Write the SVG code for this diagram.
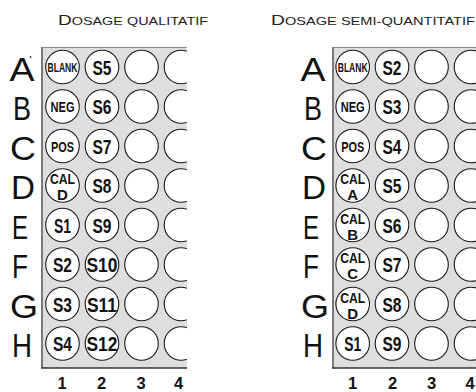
<svg xmlns="http://www.w3.org/2000/svg" width="476" height="392" viewBox="0 0 476 392">
<style>
.plate{fill:#dedede}
.edge{stroke:#7a7a7a;stroke-width:2;fill:none}
.top{stroke:#8a8a8a;stroke-width:1;fill:none}
.bot{stroke:#333;stroke-width:1.5;fill:none}
.well circle{fill:#fff;stroke:#1a1a1a;stroke-width:1.1}
.well text{font-family:"Liberation Sans",Arial,sans-serif;font-weight:bold;text-anchor:middle;fill:#111}
.s{font-size:20.5px}
.b{font-size:12.5px}
.m{font-size:15px}
.row{font-family:"Liberation Sans",Arial,sans-serif;font-size:33px;fill:#111;text-anchor:middle}
.col{font-family:"Liberation Sans",Arial,sans-serif;font-size:16.5px;font-weight:bold;fill:#111;text-anchor:middle}
.title{font-family:"Liberation Sans",Arial,sans-serif;fill:#222}
</style>
<defs>
<clipPath id="clipL"><rect x="41" y="47" width="146" height="321"/></clipPath>
</defs>
<rect width="476" height="392" fill="#fff"/>

<!-- titles -->
<text class="title" x="58" y="25" textLength="150" lengthAdjust="spacingAndGlyphs"><tspan font-size="14.5">D</tspan><tspan font-size="11">OSAGE QUALITATIF</tspan></text>
<text class="title" x="271" y="25" textLength="204" lengthAdjust="spacingAndGlyphs"><tspan font-size="14.5">D</tspan><tspan font-size="11">OSAGE SEMI-QUANTITATIF</tspan></text>

<!-- plates -->
<g id="plate-left">
<rect class="plate" x="41" y="47" width="146" height="321"/>
<line class="top" x1="41" y1="47.5" x2="187" y2="47.5"/>
<line class="edge" x1="42" y1="47" x2="42" y2="368"/>
<line class="bot" x1="41" y1="368" x2="187" y2="368"/>
</g>
<g id="plate-right">
<rect class="plate" x="332" y="47" width="144" height="321"/>
<line class="top" x1="332" y1="47.5" x2="476" y2="47.5"/>
<line class="edge" x1="333" y1="47" x2="333" y2="368"/>
<line class="bot" x1="332" y1="368" x2="476" y2="368"/>
</g>

<!-- row labels -->
<g id="rows-left">
<text class="row" x="22" y="80.5" textLength="25" lengthAdjust="spacingAndGlyphs">A</text>
<text class="row" x="22" y="120" textLength="18" lengthAdjust="spacingAndGlyphs">B</text>
<text class="row" x="23" y="159.5" textLength="26" lengthAdjust="spacingAndGlyphs">C</text>
<text class="row" x="23" y="199" textLength="24" lengthAdjust="spacingAndGlyphs">D</text>
<text class="row" x="20" y="238.5" textLength="16" lengthAdjust="spacingAndGlyphs">E</text>
<text class="row" x="20" y="278" textLength="16" lengthAdjust="spacingAndGlyphs">F</text>
<text class="row" x="24" y="317.5" textLength="28" lengthAdjust="spacingAndGlyphs">G</text>
<text class="row" x="22" y="357" textLength="20" lengthAdjust="spacingAndGlyphs">H</text>
<circle cx="30.5" cy="57" r="0.9" fill="#333"/>
</g>
<g id="rows-right">
<text class="row" x="313" y="80.5" textLength="25" lengthAdjust="spacingAndGlyphs">A</text>
<text class="row" x="313" y="120" textLength="18" lengthAdjust="spacingAndGlyphs">B</text>
<text class="row" x="314" y="159.5" textLength="26" lengthAdjust="spacingAndGlyphs">C</text>
<text class="row" x="314" y="199" textLength="24" lengthAdjust="spacingAndGlyphs">D</text>
<text class="row" x="311" y="238.5" textLength="16" lengthAdjust="spacingAndGlyphs">E</text>
<text class="row" x="311" y="278" textLength="16" lengthAdjust="spacingAndGlyphs">F</text>
<text class="row" x="315" y="317.5" textLength="28" lengthAdjust="spacingAndGlyphs">G</text>
<text class="row" x="313" y="357" textLength="20" lengthAdjust="spacingAndGlyphs">H</text>
</g>

<!-- column numbers -->
<g id="cols-left">
<text class="col" x="62" y="389">1</text>
<text class="col" x="101.5" y="389">2</text>
<text class="col" x="141" y="389">3</text>
<text class="col" x="178.5" y="389">4</text>
</g>
<g id="cols-right">
<text class="col" x="352.5" y="389">1</text>
<text class="col" x="392.5" y="389">2</text>
<text class="col" x="431.5" y="389">3</text>
<text class="col" x="470" y="389">4</text>
</g>

<!-- left plate wells -->
<g id="wells-left" clip-path="url(#clipL)">
<g id="L-A1" class="well"><circle cx="62.5" cy="67" r="16.8"/><text class="b" x="62.5" y="71.5" textLength="30" lengthAdjust="spacingAndGlyphs">BLANK</text></g>
<g id="L-B1" class="well"><circle cx="62.5" cy="106.5" r="16.8"/><text class="m" x="62.5" y="112" textLength="24" lengthAdjust="spacingAndGlyphs">NEG</text></g>
<g id="L-C1" class="well"><circle cx="62.5" cy="146" r="16.8"/><text class="m" x="62.5" y="151.5" textLength="23" lengthAdjust="spacingAndGlyphs">POS</text></g>
<g id="L-D1" class="well"><circle cx="62.5" cy="185.5" r="16.8"/><text class="m" x="62.5" y="184" textLength="25" lengthAdjust="spacingAndGlyphs">CAL</text><text class="m" x="62.5" y="200">D</text></g>
<g id="L-E1" class="well"><circle cx="62.5" cy="225" r="16.8"/><text class="s" x="62.5" y="232.5" textLength="17" lengthAdjust="spacingAndGlyphs">S1</text></g>
<g id="L-F1" class="well"><circle cx="62.5" cy="264.5" r="16.8"/><text class="s" x="62.5" y="272" textLength="19" lengthAdjust="spacingAndGlyphs">S2</text></g>
<g id="L-G1" class="well"><circle cx="62.5" cy="304" r="16.8"/><text class="s" x="62.5" y="311.5" textLength="19" lengthAdjust="spacingAndGlyphs">S3</text></g>
<g id="L-H1" class="well"><circle cx="62.5" cy="343.5" r="16.8"/><text class="s" x="62.5" y="351" textLength="19" lengthAdjust="spacingAndGlyphs">S4</text></g>

<g id="L-A2" class="well"><circle cx="102" cy="67" r="16.8"/><text class="s" x="102" y="74.5" textLength="19" lengthAdjust="spacingAndGlyphs">S5</text></g>
<g id="L-B2" class="well"><circle cx="102" cy="106.5" r="16.8"/><text class="s" x="102" y="114" textLength="19" lengthAdjust="spacingAndGlyphs">S6</text></g>
<g id="L-C2" class="well"><circle cx="102" cy="146" r="16.8"/><text class="s" x="102" y="153.5" textLength="19" lengthAdjust="spacingAndGlyphs">S7</text></g>
<g id="L-D2" class="well"><circle cx="102" cy="185.5" r="16.8"/><text class="s" x="102" y="193" textLength="19" lengthAdjust="spacingAndGlyphs">S8</text></g>
<g id="L-E2" class="well"><circle cx="102" cy="225" r="16.8"/><text class="s" x="102" y="232.5" textLength="19" lengthAdjust="spacingAndGlyphs">S9</text></g>
<g id="L-F2" class="well"><circle cx="102" cy="264.5" r="16.8"/><text class="s" x="102" y="272" textLength="31" lengthAdjust="spacingAndGlyphs">S10</text></g>
<g id="L-G2" class="well"><circle cx="102" cy="304" r="16.8"/><text class="s" x="102" y="311.5" textLength="30" lengthAdjust="spacingAndGlyphs">S11</text></g>
<g id="L-H2" class="well"><circle cx="102" cy="343.5" r="16.8"/><text class="s" x="102" y="351" textLength="31" lengthAdjust="spacingAndGlyphs">S12</text></g>

<g id="L-A3" class="well"><circle cx="141.5" cy="67" r="16.8"/></g>
<g id="L-B3" class="well"><circle cx="141.5" cy="106.5" r="16.8"/></g>
<g id="L-C3" class="well"><circle cx="141.5" cy="146" r="16.8"/></g>
<g id="L-D3" class="well"><circle cx="141.5" cy="185.5" r="16.8"/></g>
<g id="L-E3" class="well"><circle cx="141.5" cy="225" r="16.8"/></g>
<g id="L-F3" class="well"><circle cx="141.5" cy="264.5" r="16.8"/></g>
<g id="L-G3" class="well"><circle cx="141.5" cy="304" r="16.8"/></g>
<g id="L-H3" class="well"><circle cx="141.5" cy="343.5" r="16.8"/></g>

<g id="L-A4" class="well"><circle cx="181" cy="67" r="16.8"/></g>
<g id="L-B4" class="well"><circle cx="181" cy="106.5" r="16.8"/></g>
<g id="L-C4" class="well"><circle cx="181" cy="146" r="16.8"/></g>
<g id="L-D4" class="well"><circle cx="181" cy="185.5" r="16.8"/></g>
<g id="L-E4" class="well"><circle cx="181" cy="225" r="16.8"/></g>
<g id="L-F4" class="well"><circle cx="181" cy="264.5" r="16.8"/></g>
<g id="L-G4" class="well"><circle cx="181" cy="304" r="16.8"/></g>
<g id="L-H4" class="well"><circle cx="181" cy="343.5" r="16.8"/></g>
</g>

<!-- right plate wells -->
<g id="wells-right">
<g id="R-A1" class="well"><circle cx="352.7" cy="67" r="16.8"/><text class="b" x="352.7" y="71.5" textLength="30" lengthAdjust="spacingAndGlyphs">BLANK</text></g>
<g id="R-B1" class="well"><circle cx="352.7" cy="106.5" r="16.8"/><text class="m" x="352.7" y="112" textLength="24" lengthAdjust="spacingAndGlyphs">NEG</text></g>
<g id="R-C1" class="well"><circle cx="352.7" cy="146" r="16.8"/><text class="m" x="352.7" y="151.5" textLength="23" lengthAdjust="spacingAndGlyphs">POS</text></g>
<g id="R-D1" class="well"><circle cx="352.7" cy="185.5" r="16.8"/><text class="m" x="352.7" y="184" textLength="25" lengthAdjust="spacingAndGlyphs">CAL</text><text class="m" x="352.7" y="200">A</text></g>
<g id="R-E1" class="well"><circle cx="352.7" cy="225" r="16.8"/><text class="m" x="352.7" y="223.5" textLength="25" lengthAdjust="spacingAndGlyphs">CAL</text><text class="m" x="352.7" y="239.5">B</text></g>
<g id="R-F1" class="well"><circle cx="352.7" cy="264.5" r="16.8"/><text class="m" x="352.7" y="263" textLength="25" lengthAdjust="spacingAndGlyphs">CAL</text><text class="m" x="352.7" y="279">C</text></g>
<g id="R-G1" class="well"><circle cx="352.7" cy="304" r="16.8"/><text class="m" x="352.7" y="302.5" textLength="25" lengthAdjust="spacingAndGlyphs">CAL</text><text class="m" x="352.7" y="318.5">D</text></g>
<g id="R-H1" class="well"><circle cx="352.7" cy="343.5" r="16.8"/><text class="s" x="352.7" y="351" textLength="17" lengthAdjust="spacingAndGlyphs">S1</text></g>

<g id="R-A2" class="well"><circle cx="392" cy="67" r="16.8"/><text class="s" x="392" y="74.5" textLength="19" lengthAdjust="spacingAndGlyphs">S2</text></g>
<g id="R-B2" class="well"><circle cx="392" cy="106.5" r="16.8"/><text class="s" x="392" y="114" textLength="19" lengthAdjust="spacingAndGlyphs">S3</text></g>
<g id="R-C2" class="well"><circle cx="392" cy="146" r="16.8"/><text class="s" x="392" y="153.5" textLength="19" lengthAdjust="spacingAndGlyphs">S4</text></g>
<g id="R-D2" class="well"><circle cx="392" cy="185.5" r="16.8"/><text class="s" x="392" y="193" textLength="19" lengthAdjust="spacingAndGlyphs">S5</text></g>
<g id="R-E2" class="well"><circle cx="392" cy="225" r="16.8"/><text class="s" x="392" y="232.5" textLength="19" lengthAdjust="spacingAndGlyphs">S6</text></g>
<g id="R-F2" class="well"><circle cx="392" cy="264.5" r="16.8"/><text class="s" x="392" y="272" textLength="19" lengthAdjust="spacingAndGlyphs">S7</text></g>
<g id="R-G2" class="well"><circle cx="392" cy="304" r="16.8"/><text class="s" x="392" y="311.5" textLength="19" lengthAdjust="spacingAndGlyphs">S8</text></g>
<g id="R-H2" class="well"><circle cx="392" cy="343.5" r="16.8"/><text class="s" x="392" y="351" textLength="19" lengthAdjust="spacingAndGlyphs">S9</text></g>

<g id="R-A3" class="well"><circle cx="431.5" cy="67" r="16.8"/></g>
<g id="R-B3" class="well"><circle cx="431.5" cy="106.5" r="16.8"/></g>
<g id="R-C3" class="well"><circle cx="431.5" cy="146" r="16.8"/></g>
<g id="R-D3" class="well"><circle cx="431.5" cy="185.5" r="16.8"/></g>
<g id="R-E3" class="well"><circle cx="431.5" cy="225" r="16.8"/></g>
<g id="R-F3" class="well"><circle cx="431.5" cy="264.5" r="16.8"/></g>
<g id="R-G3" class="well"><circle cx="431.5" cy="304" r="16.8"/></g>
<g id="R-H3" class="well"><circle cx="431.5" cy="343.5" r="16.8"/></g>

<g id="R-A4" class="well"><circle cx="471" cy="67" r="16.8"/></g>
<g id="R-B4" class="well"><circle cx="471" cy="106.5" r="16.8"/></g>
<g id="R-C4" class="well"><circle cx="471" cy="146" r="16.8"/></g>
<g id="R-D4" class="well"><circle cx="471" cy="185.5" r="16.8"/></g>
<g id="R-E4" class="well"><circle cx="471" cy="225" r="16.8"/></g>
<g id="R-F4" class="well"><circle cx="471" cy="264.5" r="16.8"/></g>
<g id="R-G4" class="well"><circle cx="471" cy="304" r="16.8"/></g>
<g id="R-H4" class="well"><circle cx="471" cy="343.5" r="16.8"/></g>
</g>

<g id="connectors"/>
</svg>
